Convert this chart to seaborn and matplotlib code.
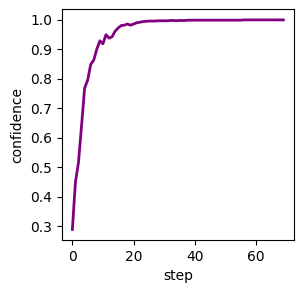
import matplotlib
matplotlib.use("Agg")
import matplotlib.pyplot as plt
import seaborn as sns
import pandas as pd

steps = list(range(70))
confidence = [
    0.289, 0.449, 0.516, 0.640, 0.767, 0.795, 0.848, 0.863, 0.900, 0.928,
    0.918, 0.949, 0.937, 0.942, 0.961, 0.972, 0.980, 0.981, 0.985, 0.981,
    0.985, 0.989, 0.991, 0.993, 0.994, 0.995, 0.995, 0.995, 0.996, 0.996,
    0.996, 0.996, 0.997, 0.997, 0.996, 0.997, 0.997, 0.997, 0.998, 0.998,
    0.998, 0.998, 0.998, 0.998, 0.998, 0.998, 0.998, 0.998, 0.998, 0.998,
    0.998, 0.998, 0.998, 0.998, 0.998, 0.998, 0.999, 0.999, 0.999, 0.999,
    0.999, 0.999, 0.999, 0.999, 0.999, 0.999, 0.999, 0.999, 0.999, 0.999,
]

df = pd.DataFrame({"step": steps, "confidence": confidence})

fig = plt.figure(figsize=(3.03, 2.94), dpi=100)
ax = fig.add_axes([0.204, 0.184, 0.766, 0.784])
sns.lineplot(data=df, x="step", y="confidence", color="purple", linewidth=2, ax=ax)
ax.set_xlabel("step")
ax.set_ylabel("confidence")

plt.savefig("out.png", dpi=100)
